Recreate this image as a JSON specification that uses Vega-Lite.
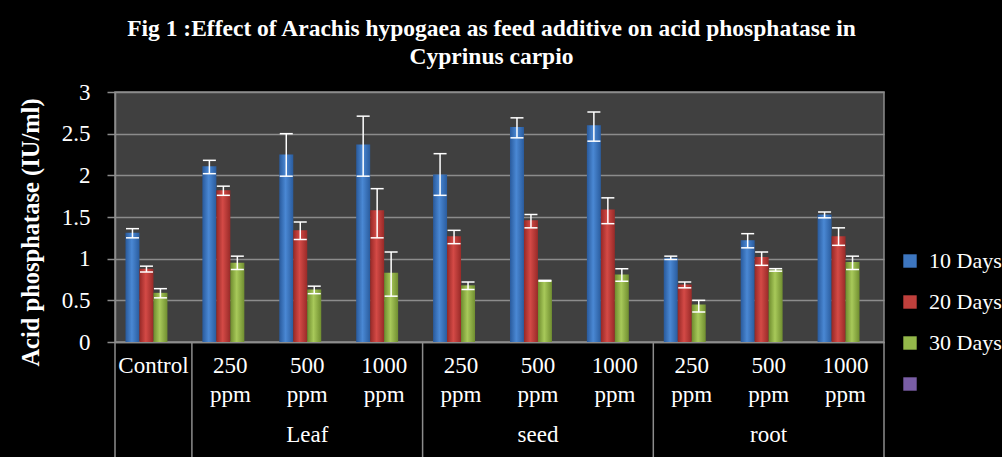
{
  "$schema": "https://vega.github.io/schema/vega-lite/v6.json",
  "width": 769,
  "height": 250,
  "autosize": {"type": "none"},
  "padding": {"left": 115, "top": 92, "right": 118, "bottom": 115},
  "background": "black",
  "config": {
    "font": "Liberation Serif",
    "view": {"fill": "#404040", "stroke": "#8c8c8c", "strokeWidth": 1.5}
  },
  "title": {
    "text": ["Fig 1 :Effect of Arachis hypogaea as feed additive on acid phosphatase in", "Cyprinus carpio"],
    "color": "white",
    "font": "Liberation Serif",
    "fontSize": 23.5,
    "fontWeight": "bold",
    "anchor": "middle",
    "frame": "group",
    "dx": -8,
    "offset": 13,
    "lineHeight": 28
  },
  "data": {
    "values": [
      {"group": "", "cat": "Control", "series": "10 Days", "value": 1.31, "lo": 1.25, "hi": 1.36},
      {"group": "", "cat": "Control", "series": "20 Days", "value": 0.88, "lo": 0.84, "hi": 0.91},
      {"group": "", "cat": "Control", "series": "30 Days", "value": 0.59, "lo": 0.53, "hi": 0.64},
      {"group": "Leaf", "cat": "250 ppm|Leaf", "series": "10 Days", "value": 2.11, "lo": 2.02, "hi": 2.18},
      {"group": "Leaf", "cat": "250 ppm|Leaf", "series": "20 Days", "value": 1.82, "lo": 1.76, "hi": 1.87},
      {"group": "Leaf", "cat": "250 ppm|Leaf", "series": "30 Days", "value": 0.95, "lo": 0.87, "hi": 1.03},
      {"group": "Leaf", "cat": "500 ppm|Leaf", "series": "10 Days", "value": 2.25, "lo": 1.99, "hi": 2.5},
      {"group": "Leaf", "cat": "500 ppm|Leaf", "series": "20 Days", "value": 1.34, "lo": 1.23, "hi": 1.44},
      {"group": "Leaf", "cat": "500 ppm|Leaf", "series": "30 Days", "value": 0.63, "lo": 0.58, "hi": 0.67},
      {"group": "Leaf", "cat": "1000 ppm|Leaf", "series": "10 Days", "value": 2.37, "lo": 1.99, "hi": 2.71},
      {"group": "Leaf", "cat": "1000 ppm|Leaf", "series": "20 Days", "value": 1.58, "lo": 1.25, "hi": 1.84},
      {"group": "Leaf", "cat": "1000 ppm|Leaf", "series": "30 Days", "value": 0.83, "lo": 0.55, "hi": 1.08},
      {"group": "seed", "cat": "250 ppm|seed", "series": "10 Days", "value": 2.01, "lo": 1.76, "hi": 2.26},
      {"group": "seed", "cat": "250 ppm|seed", "series": "20 Days", "value": 1.27, "lo": 1.18, "hi": 1.34},
      {"group": "seed", "cat": "250 ppm|seed", "series": "30 Days", "value": 0.68, "lo": 0.63, "hi": 0.72},
      {"group": "seed", "cat": "500 ppm|seed", "series": "10 Days", "value": 2.58, "lo": 2.45, "hi": 2.69},
      {"group": "seed", "cat": "500 ppm|seed", "series": "20 Days", "value": 1.46, "lo": 1.37, "hi": 1.53},
      {"group": "seed", "cat": "500 ppm|seed", "series": "30 Days", "value": 0.74, "lo": 0.73, "hi": 0.74},
      {"group": "seed", "cat": "1000 ppm|seed", "series": "10 Days", "value": 2.6, "lo": 2.41, "hi": 2.76},
      {"group": "seed", "cat": "1000 ppm|seed", "series": "20 Days", "value": 1.59, "lo": 1.42, "hi": 1.73},
      {"group": "seed", "cat": "1000 ppm|seed", "series": "30 Days", "value": 0.81, "lo": 0.73, "hi": 0.88},
      {"group": "root", "cat": "250 ppm|root", "series": "10 Days", "value": 1.01, "lo": 0.99, "hi": 1.03},
      {"group": "root", "cat": "250 ppm|root", "series": "20 Days", "value": 0.69, "lo": 0.65, "hi": 0.72},
      {"group": "root", "cat": "250 ppm|root", "series": "30 Days", "value": 0.45, "lo": 0.36, "hi": 0.5},
      {"group": "root", "cat": "500 ppm|root", "series": "10 Days", "value": 1.22, "lo": 1.13, "hi": 1.3},
      {"group": "root", "cat": "500 ppm|root", "series": "20 Days", "value": 1.02, "lo": 0.92, "hi": 1.08},
      {"group": "root", "cat": "500 ppm|root", "series": "30 Days", "value": 0.87, "lo": 0.85, "hi": 0.88},
      {"group": "root", "cat": "1000 ppm|root", "series": "10 Days", "value": 1.53, "lo": 1.49, "hi": 1.56},
      {"group": "root", "cat": "1000 ppm|root", "series": "20 Days", "value": 1.27, "lo": 1.16, "hi": 1.37},
      {"group": "root", "cat": "1000 ppm|root", "series": "30 Days", "value": 0.96, "lo": 0.87, "hi": 1.03}
    ]
  },
  "encoding": {
    "x": {
      "field": "cat",
      "type": "nominal",
      "sort": ["Control", "250 ppm|Leaf", "500 ppm|Leaf", "1000 ppm|Leaf", "250 ppm|seed", "500 ppm|seed", "1000 ppm|seed", "250 ppm|root", "500 ppm|root", "1000 ppm|root"],
      "scale": {"paddingInner": 0, "paddingOuter": 0},
      "axis": {
        "title": null,
        "labelExpr": "split(split(datum.value, '|')[0], ' ')",
        "labelAngle": 0,
        "labelColor": "white",
        "labelFont": "Liberation Serif",
        "labelFontSize": 23,
        "labelLineHeight": 29,
        "labelBaseline": "top",
        "labelPadding": 12,
        "ticks": false,
        "domainColor": "#8c8c8c",
        "domainWidth": 1.5
      }
    }
  },
  "layer": [
    {
      "mark": {"type": "bar"},
      "encoding": {
        "xOffset": {"field": "series", "type": "nominal", "scale": {"domain": ["10 Days", "20 Days", "30 Days", " "], "paddingInner": 0, "paddingOuter": 0.75}},
        "y": {
          "field": "value",
          "type": "quantitative",
          "scale": {"domain": [0, 3], "nice": false},
          "axis": {
            "title": "Acid phosphatase (IU/ml)",
            "values": [0, 0.5, 1, 1.5, 2, 2.5, 3],
            "format": "~g",
            "labelColor": "white",
            "labelFont": "Liberation Serif",
            "labelFontSize": 23,
            "labelPadding": 17,
            "tickSize": 8,
            "tickColor": "#8c8c8c",
            "tickWidth": 1.5,
            "domainColor": "#8c8c8c",
            "domainWidth": 1.5,
            "gridColor": "#8c8c8c",
            "gridWidth": 1.5,
            "titleColor": "white",
            "titleFont": "Liberation Serif",
            "titleFontSize": 24.5,
            "titleFontWeight": "bold",
            "titleAngle": 270,
            "titleAlign": "center",
            "titleBaseline": "bottom",
            "titleX": -72,
            "titleY": 140
          }
        },
        "color": {
          "field": "series",
          "type": "nominal",
          "condition": [
            {"test": "datum.series == '10 Days'", "value": {"gradient": "linear", "x1": 0, "y1": 0, "x2": 1, "y2": 0, "stops": [{"offset": 0, "color": "#295a9c"}, {"offset": 0.45, "color": "#4a88d4"}, {"offset": 1, "color": "#2a5c9e"}]}},
            {"test": "datum.series == '20 Days'", "value": {"gradient": "linear", "x1": 0, "y1": 0, "x2": 1, "y2": 0, "stops": [{"offset": 0, "color": "#962826"}, {"offset": 0.45, "color": "#d44a46"}, {"offset": 1, "color": "#982a28"}]}},
            {"test": "datum.series == '30 Days'", "value": {"gradient": "linear", "x1": 0, "y1": 0, "x2": 1, "y2": 0, "stops": [{"offset": 0, "color": "#6e8c2e"}, {"offset": 0.45, "color": "#a8c95a"}, {"offset": 1, "color": "#708e30"}]}}
          ],
          "scale": {
            "domain": ["10 Days", "20 Days", "30 Days", " "],
            "range": ["#3d76c0", "#c0403c", "#94b84a", "#7a5ea6"]
          },
          "legend": {
            "title": null,
            "orient": "none",
            "legendX": 784,
            "legendY": 158,
            "symbolType": "square",
            "symbolSize": 180,
            "symbolStrokeWidth": 0,
            "labelColor": "white",
            "labelFont": "Liberation Serif",
            "labelFontSize": 22,
            "labelOffset": 8,
            "rowPadding": 19
          }
        }
      }
    },
    {
      "mark": {"type": "rule", "color": "white", "strokeWidth": 1.5},
      "encoding": {
        "xOffset": {"field": "series", "type": "nominal", "scale": {"domain": ["10 Days", "20 Days", "30 Days", " "], "paddingInner": 0, "paddingOuter": 0.75}},
        "y": {"field": "lo", "type": "quantitative"},
        "y2": {"field": "hi"}
      }
    },
    {
      "mark": {"type": "tick", "color": "white", "size": 13, "thickness": 1.5, "opacity": 1},
      "encoding": {
        "xOffset": {"field": "series", "type": "nominal", "scale": {"domain": ["10 Days", "20 Days", "30 Days", " "], "paddingInner": 0, "paddingOuter": 0.75}},
        "y": {"field": "lo", "type": "quantitative"}
      }
    },
    {
      "mark": {"type": "tick", "color": "white", "size": 13, "thickness": 1.5, "opacity": 1},
      "encoding": {
        "xOffset": {"field": "series", "type": "nominal", "scale": {"domain": ["10 Days", "20 Days", "30 Days", " "], "paddingInner": 0, "paddingOuter": 0.75}},
        "y": {"field": "hi", "type": "quantitative"}
      }
    },
    {
      "transform": [
        {"filter": "datum.series == '10 Days' && (datum.cat == 'Control' || indexof(datum.cat, '250 ppm') == 0)"}
      ],
      "mark": {"type": "rule", "color": "#8c8c8c", "strokeWidth": 1.5},
      "encoding": {
        "x": {"field": "cat", "type": "nominal", "bandPosition": 0, "sort": ["Control", "250 ppm|Leaf", "500 ppm|Leaf", "1000 ppm|Leaf", "250 ppm|seed", "500 ppm|seed", "1000 ppm|seed", "250 ppm|root", "500 ppm|root", "1000 ppm|root"]},
        "y": {"datum": 0, "type": "quantitative"},
        "y2": {"datum": -1.38}
      }
    },
    {
      "transform": [
        {"filter": "datum.series == '10 Days' && datum.cat == '1000 ppm|root'"}
      ],
      "mark": {"type": "rule", "color": "#8c8c8c", "strokeWidth": 1.5},
      "encoding": {
        "x": {"field": "cat", "type": "nominal", "bandPosition": 1, "sort": ["Control", "250 ppm|Leaf", "500 ppm|Leaf", "1000 ppm|Leaf", "250 ppm|seed", "500 ppm|seed", "1000 ppm|seed", "250 ppm|root", "500 ppm|root", "1000 ppm|root"]},
        "y": {"datum": 0, "type": "quantitative"},
        "y2": {"datum": -1.38}
      }
    },
    {
      "transform": [
        {"filter": "datum.series == '10 Days' && indexof(datum.cat, '500 ppm') == 0"}
      ],
      "mark": {"type": "text", "color": "white", "font": "Liberation Serif", "fontSize": 23, "baseline": "middle", "align": "center"},
      "encoding": {
        "text": {"field": "group"},
        "y": {"datum": -1.12, "type": "quantitative"}
      }
    }
  ]
}
